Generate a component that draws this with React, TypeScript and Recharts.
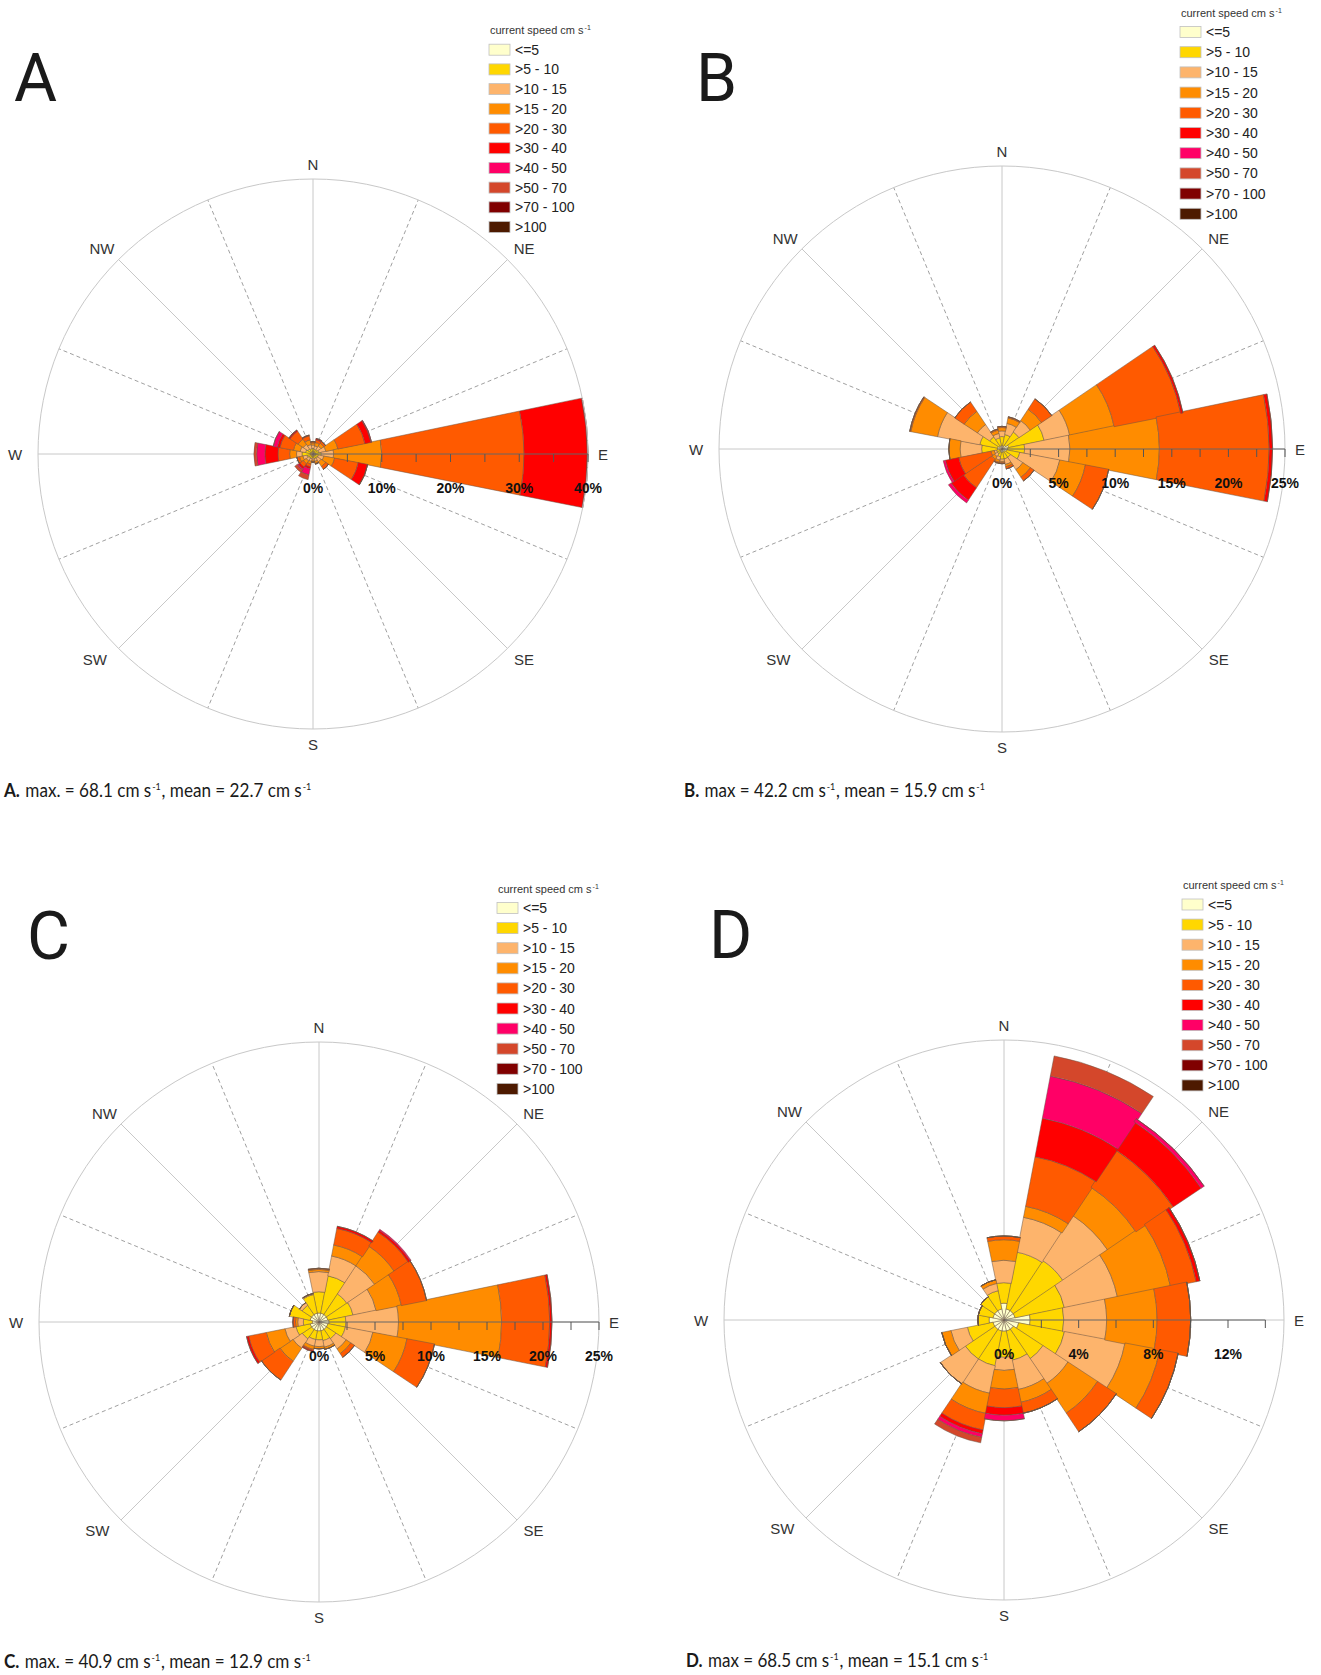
import React from 'react';
import { RadialBarChart, RadialBar, PolarGrid, PolarAngleAxis, PolarRadiusAxis } from 'recharts';

// 16 compass sectors, clockwise from north
const directions = ['N', 'NNE', 'NE', 'ENE', 'E', 'ESE', 'SE', 'SSE', 'S', 'SSW', 'SW', 'WSW', 'W', 'WNW', 'NW', 'NNW'];
const compassLabels = ['N', 'NE', 'E', 'SE', 'S', 'SW', 'W', 'NW'];

const speedClasses = ['<=5', '>5 - 10', '>10 - 15', '>15 - 20', '>20 - 30', '>30 - 40', '>40 - 50', '>50 - 70', '>70 - 100', '>100'];
const speedColors = ['#FFFFCC', '#FFD700', '#FDB46C', '#FF8C00', '#FF5A00', '#FF0000', '#FF0066', '#D4472B', '#800000', '#4D1A00'];

const solidAngles = [0, 45, 90, 135, 180, 225, 270, 315];
const dottedAngles = [22.5, 67.5, 112.5, 157.5, 202.5, 247.5, 292.5, 337.5];

// frequency (%) per direction row, per speed class column
const roseA = [
  [0.3, 0.5, 0.5, 0.3, 0.2],
  [0.3, 0.4, 0.5, 0.5, 0.4, 0.2],
  [0.3, 0.5, 0.6, 0.5, 0.3],
  [0.3, 0.6, 1.0, 1.8, 4.0, 0.9, 0.1],
  [0.3, 0.9, 1.8, 7.0, 20.7, 9.2, 0.2],
  [0.3, 0.5, 0.8, 1.6, 3.5, 1.4],
  [0.3, 0.5, 0.6, 0.8, 0.5],
  [0.3, 0.4, 0.4, 0.3, 0.1],
  [0.3, 0.3, 0.3, 0.2, 0.1],
  [0.3, 0.4, 0.4, 0.4, 0.4, 0.3, 0.9, 0.7],
  [0.3, 0.4, 0.5, 0.5, 0.6, 0.3, 0.2, 0.4],
  [0.3, 0.6, 0.6, 0.5, 0.4],
  [0.4, 1.2, 0.8, 1.0, 1.7, 1.9, 1.2, 0.4],
  [0.3, 0.8, 0.8, 1.0, 2.0, 0.4, 0.6],
  [0.3, 0.6, 0.8, 0.9, 1.4, 0.2],
  [0.3, 0.5, 0.6, 0.7, 0.6, 0.1],
];

const roseB = [
  [0.3, 0.8, 0.5, 0.3, 0.1],
  [0.3, 1.0, 1.0, 0.5, 0.1],
  [0.4, 1.4, 1.2, 1.2, 1.1],
  [0.6, 3.2, 2.3, 4.0, 6.0, 0.2],
  [0.5, 1.5, 4.0, 7.9, 9.7, 0.3],
  [0.4, 1.2, 3.6, 2.3, 2.1],
  [0.3, 0.6, 1.3, 0.8, 0.4],
  [0.3, 0.6, 0.5, 0.2, 0.2],
  [0.3, 0.6, 0.2, 0.1, 0.1],
  [0.3, 0.4, 0.3, 0.2, 0.1],
  [0.2, 0.3, 0.3, 0.3, 3.0, 1.3, 0.3],
  [0.2, 0.3, 0.2, 0.3, 2.9, 1.2, 0.2],
  [0.4, 1.4, 1.9, 1.0],
  [0.4, 1.6, 3.8, 2.4, 0.1],
  [0.3, 1.0, 1.3, 1.4, 1.0],
  [0.3, 0.7, 0.4, 0.3, 0.1],
];

const roseC = [
  [0.8, 1.9, 1.8, 0.2, 0.1],
  [0.8, 3.4, 1.8, 1.0, 1.5, 0.2],
  [0.8, 2.2, 3.0, 2.1, 1.5, 0.2, 0.1],
  [0.8, 2.3, 2.1, 2.3, 2.3],
  [0.9, 1.5, 4.7, 9.2, 4.3, 0.2],
  [0.8, 1.6, 2.5, 3.1, 2.5],
  [0.8, 1.0, 1.1, 0.5, 0.4],
  [0.8, 0.9, 0.6, 0.2],
  [0.8, 0.8, 0.6, 0.2],
  [0.8, 0.8, 0.6, 0.3, 0.1, 0.1],
  [0.8, 1.0, 1.0, 1.4, 2.0],
  [0.8, 1.3, 1.0, 1.7, 1.6, 0.2],
  [0.6, 0.8, 0.5, 0.2, 0.2, 0.05],
  [0.8, 1.9],
  [0.8, 1.0, 0.3],
  [0.8, 1.7, 0.1],
];

const roseD = [
  [0.9, 1.1, 1.2, 1.1, 0.2],
  [0.6, 3.1, 1.9, 0.6, 2.7, 2.1, 2.3, 1.1],
  [0.6, 3.2, 2.9, 1.8, 2.4, 1.8, 0.2],
  [0.6, 2.7, 2.9, 2.9, 1.4, 0.2],
  [1.4, 1.8, 2.3, 2.7, 1.8],
  [0.8, 2.5, 3.3, 1.9, 1.0],
  [0.6, 1.9, 1.6, 1.9, 1.2],
  [0.6, 1.6, 1.6, 0.7, 0.6],
  [0.6, 1.4, 0.7, 1.0, 1.0, 0.4, 0.3],
  [0.6, 1.9, 1.5, 1.1, 0.9, 0.2, 0.2, 0.3],
  [0.6, 1.9, 1.6],
  [0.6, 1.4, 0.9, 0.5],
  [0.8, 0.6],
  [0.6, 0.8],
  [0.6, 0.9],
  [0.6, 1.0, 0.4, 0.2],
];

const ticksA = [0, 5, 10, 15, 20, 25, 30, 35, 40];
const ticksB = [0, 2.5, 5, 7.5, 10, 12.5, 15, 17.5, 20, 22.5, 25];
const ticksC = [0, 2.5, 5, 7.5, 10, 12.5, 15, 17.5, 20, 22.5, 25];
const ticksD = [0, 2, 4, 6, 8, 10, 12, 14];

const FONT = "'Liberation Sans', Arial, sans-serif";
const CAPTION_FONT = "Lato, 'Open Sans', sans-serif";
const SECTOR = 360 / directions.length;

// small horizontal nudges so the compass labels sit like the original ones
const labelNudge: Record<string, number> = { NE: 6, SE: 6, SW: -13, W: -8, NW: -6 };

// compass label placed just outside the rim, at the centre of its sector
const makeDirTick = (cx: number, cy: number, r: number) => (props: any) => {
  const name = props.payload?.value;
  if (!compassLabels.includes(name)) return <g />;
  const a = ((90 - directions.indexOf(name) * SECTOR) * Math.PI) / 180;
  return (
    <text
      x={cx + (r + 15) * Math.cos(a) + (labelNudge[name] ?? 0)}
      y={cy - (r + 15) * Math.sin(a)}
      textAnchor="middle"
      dominantBaseline="central"
      fontSize={15}
      fill="#333"
      fontFamily={FONT}
    >
      {name}
    </text>
  );
};

const makeRadiusTick = (labelStep: number) => (props: any) => {
  const { x, y, payload } = props;
  const v = payload.value;
  return (
    <g>
      {v > 0 && <line x1={x} y1={y} x2={x} y2={y + 8} stroke="#555" strokeWidth={1} />}
      {v % labelStep === 0 && (
        <text x={x} y={y + 34} textAnchor="middle" dominantBaseline="central" fontSize={14} fontWeight="bold" fill="#111" fontFamily={FONT}>
          {v}%
        </text>
      )}
    </g>
  );
};

type RoseProps = {
  rows: number[][];
  cx: number;
  cy: number;
  radius: number;
  max: number;
  ticks: number[];
  labelStep: number;
};

const Rose = ({ rows, cx, cy, radius, max, ticks, labelStep }: RoseProps) => {
  const data = directions.map((dir, i) => {
    const row: Record<string, any> = { dir };
    speedClasses.forEach((_, k) => {
      row[`c${k}`] = rows[i][k] ?? 0;
    });
    return row;
  });
  const used = Math.max(...rows.map((r) => r.length));

  return (
    <RadialBarChart
      width={660}
      height={840}
      data={data}
      cx={cx}
      cy={cy}
      innerRadius={0}
      outerRadius={radius}
      startAngle={90 - SECTOR / 2}
      endAngle={90 - SECTOR / 2 - 360}
      layout="centric"
      barCategoryGap={0}
      barGap={0}
      margin={{ top: 0, right: 0, bottom: 0, left: 0 }}
    >
      <PolarGrid gridType="circle" polarAngles={solidAngles} polarRadius={[]} stroke="#c8c8c8" />
      <PolarGrid gridType="circle" polarAngles={dottedAngles} polarRadius={[]} stroke="#a0a0a0" strokeDasharray="4 3" />
      <PolarAngleAxis
        dataKey="dir"
        type="category"
        axisLineType="circle"
        stroke="#c8c8c8"
        tickLine={false}
        tick={makeDirTick(cx, cy, radius)}
      />
      {speedClasses.slice(0, used).map((name, k) => (
        <RadialBar
          key={name}
          dataKey={`c${k}`}
          stackId="s"
          fill={speedColors[k]}
          stroke="#6b5444"
          strokeWidth={0.5}
          isAnimationActive={false}
        />
      ))}
      <PolarRadiusAxis
        angle={0}
        type="number"
        domain={[0, max]}
        ticks={ticks}
        allowDataOverflow
        stroke="#666"
        axisLine={{ stroke: '#666' }}
        tick={makeRadiusTick(labelStep)}
      />
    </RadialBarChart>
  );
};

const SpeedLegend = ({ x, y, step }: { x: number; y: number; step: number }) => (
  <g fontFamily={FONT}>
    <text x={x + 1} y={y - 15.5} fontSize={11} fill="#333">
      current speed cm s<tspan dx={1} dy={-4} fontSize={7}>-1</tspan>
    </text>
    {speedClasses.map((label, k) => (
      <g key={label}>
        <rect x={x} y={y + k * step - 5.5} width={21} height={11} fill={speedColors[k]} stroke="#c0c0c0" strokeWidth={0.8} />
        <text x={x + 26} y={y + k * step} dominantBaseline="central" fontSize={14} fill="#222">
          {label}
        </text>
      </g>
    ))}
  </g>
);

const Caption = ({ x, y, squeeze, tag, max, mean }: { x: number; y: number; squeeze: number; tag: string; max: string; mean: string }) => (
  <g transform={`translate(${x} ${y}) scale(${squeeze} 1)`}>
    <text x={0} y={0} fontFamily={CAPTION_FONT} fontSize={19} fill="#1a1a1a">
      <tspan fontWeight="bold">{tag}</tspan>
      <tspan dx={6}>{max} cm s</tspan>
      <tspan dx={1} dy={-7} fontSize={10}>-1</tspan>
      <tspan dx={1} dy={7}>, {mean} cm s</tspan>
      <tspan dx={1} dy={-7} fontSize={10}>-1</tspan>
    </text>
  </g>
);

export default function App() {
  const letter = { fontFamily: "Roboto, 'Open Sans', sans-serif", fontSize: 66, fill: '#1a1a1a' };
  return (
    <div style={{ position: 'absolute', left: 0, top: 0, width: 1321, height: 1675, background: '#fff', overflow: 'hidden' }}>
      <div style={{ position: 'absolute', left: 0, top: 0 }}>
        <Rose rows={roseA} cx={313} cy={454} radius={275} max={40} ticks={ticksA} labelStep={10} />
      </div>
      <div style={{ position: 'absolute', left: 660, top: 0 }}>
        <Rose rows={roseB} cx={342} cy={449} radius={283} max={25} ticks={ticksB} labelStep={5} />
      </div>
      <div style={{ position: 'absolute', left: 0, top: 840 }}>
        <Rose rows={roseC} cx={319} cy={482} radius={280} max={25} ticks={ticksC} labelStep={5} />
      </div>
      <div style={{ position: 'absolute', left: 660, top: 840 }}>
        <Rose rows={roseD} cx={344} cy={480} radius={280} max={15} ticks={ticksD} labelStep={4} />
      </div>
      <svg width={1321} height={1675} style={{ position: 'absolute', left: 0, top: 0, pointerEvents: 'none' }}>
        <text x={14} y={101} {...letter}>A</text>
        <text x={696} y={101} {...letter}>B</text>
        <text x={27} y={959} {...letter}>C</text>
        <text x={709} y={958} {...letter}>D</text>

        <SpeedLegend x={489} y={49.7} step={19.7} />
        <SpeedLegend x={1180} y={32} step={20.2} />
        <SpeedLegend x={497} y={908} step={20.1} />
        <SpeedLegend x={1182} y={904.5} step={20.1} />

        <Caption x={4} y={797} squeeze={0.9} tag="A." max="max. = 68.1" mean="mean = 22.7" />
        <Caption x={684} y={797} squeeze={0.895} tag="B." max="max = 42.2" mean="mean = 15.9" />
        <Caption x={4} y={1668} squeeze={0.9} tag="C." max="max. = 40.9" mean="mean = 12.9" />
        <Caption x={686} y={1667} squeeze={0.895} tag="D." max="max = 68.5" mean="mean = 15.1" />
      </svg>
    </div>
  );
}
